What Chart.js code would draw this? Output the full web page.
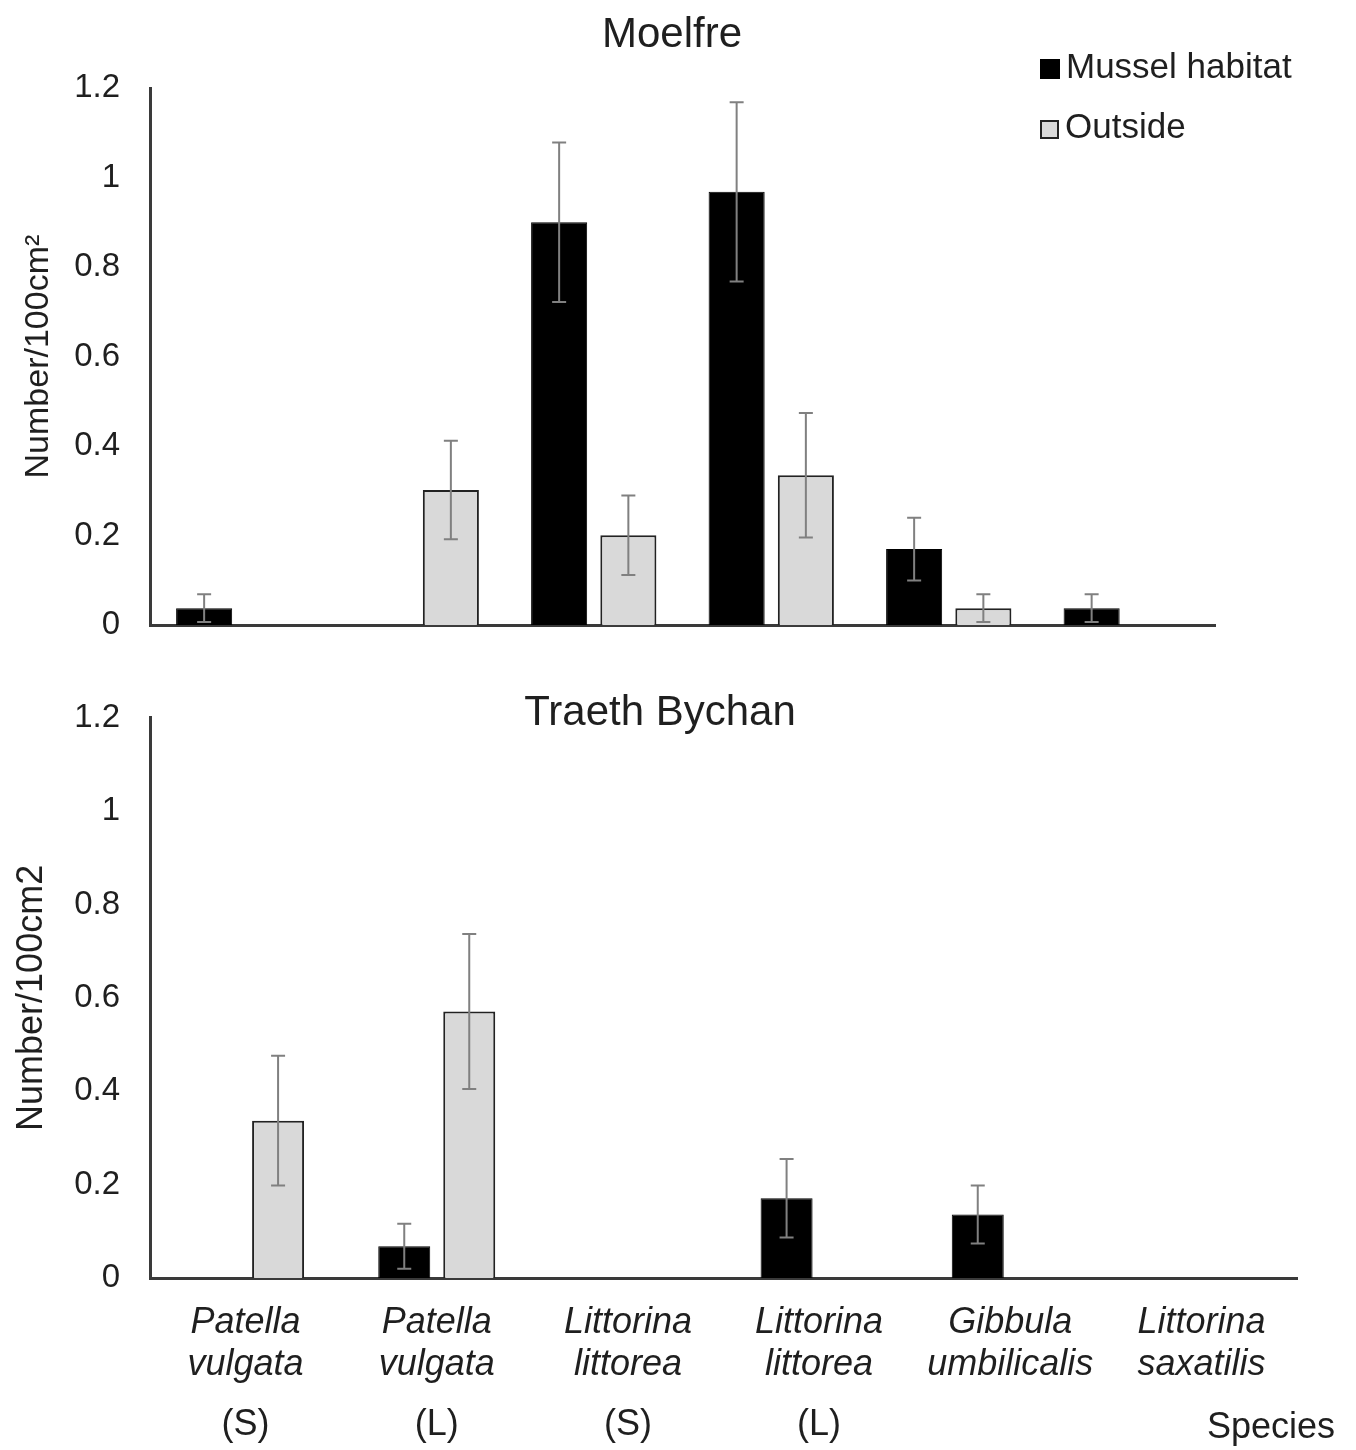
<!DOCTYPE html>
<html>
<head>
<meta charset="utf-8">
<script src="https://cdn.jsdelivr.net/npm/chart.js@4"></script>
<style>
  body { margin: 0; background: #fff; font-family: "Liberation Sans", Arial, sans-serif; }
  #page { position: relative; width: 1356px; height: 1450px; }
  .box { position: absolute; left: 0; width: 1356px; }
  .legend { position: absolute; left: 1040px; font-size: 35px; color: #1f1f1f; line-height: 40px; }
  .legend span.sw { display: inline-block; width: 18px; height: 18px; margin-right: 6px; vertical-align: -1px; }
</style>
</head>
<body>
<div id="page">
  <div class="box" style="top:0;height:675px"><canvas id="top"></canvas></div>
  <div class="box" style="top:668px;height:782px"><canvas id="bottom"></canvas></div>
  <div class="legend" style="top:46px"><span class="sw" style="background:#000;border:1px solid #000"></span>Mussel habitat</div>
  <div class="legend" style="top:106px"><span class="sw" style="background:#d9d9d9;border:2px solid #222;width:15px;height:15px"></span>Outside</div>
</div>
<script>
// Species on the x axis (two italic lines) and size class shown under them
const categories = [
    ['Patella', 'vulgata'],
    ['Patella', 'vulgata'],
    ['Littorina', 'littorea'],
    ['Littorina', 'littorea'],
    ['Gibbula', 'umbilicalis'],
    ['Littorina', 'saxatilis']
];
const sizeTags = ['(S)', '(L)', '(S)', '(L)', '', ''];
const yTicks = [0, 0.2, 0.4, 0.6, 0.8, 1, 1.2];

// Moelfre
const moelfreMussel = [0.038, null, 0.90, 0.968, 0.17, 0.038];
const moelfreMusselErr = [0.031, null, 0.178, 0.200, 0.070, 0.031];
const moelfreOutside = [null, 0.302, 0.201, 0.335, 0.038, null];
const moelfreOutsideErr = [null, 0.110, 0.089, 0.139, 0.031, null];

// Traeth Bychan
const bychanMussel = [null, 0.068, null, 0.171, 0.136, null];
const bychanMusselErr = [null, 0.048, null, 0.084, 0.062, null];
const bychanOutside = [0.337, 0.571, null, null, null, null];
const bychanOutsideErr = [0.139, 0.166, null, null, null, null];

const FONT = '"Liberation Sans", Arial, sans-serif';
const TEXT = '#1f1f1f';

// Draw +/- error whiskers on top of each bar
const errorBars = {
    id: 'errorBars',
    afterDatasetsDraw(chart) {
        const ctx = chart.ctx;
        const y = chart.scales.y;
        chart.data.datasets.forEach((ds, i) => {
            const meta = chart.getDatasetMeta(i);
            meta.data.forEach((bar, j) => {
                const v = ds.data[j], e = ds.errors[j];
                if (v == null || e == null) return;
                const top = y.getPixelForValue(v + e);
                const bot = y.getPixelForValue(Math.max(v - e, 0));
                ctx.save();
                ctx.strokeStyle = '#808080';
                ctx.lineWidth = 2;
                ctx.beginPath();
                ctx.moveTo(bar.x, top); ctx.lineTo(bar.x, bot);
                ctx.moveTo(bar.x - 7, top); ctx.lineTo(bar.x + 7, top);
                ctx.moveTo(bar.x - 7, bot); ctx.lineTo(bar.x + 7, bot);
                ctx.stroke();
                ctx.restore();
            });
        });
    }
};

// Titles and extra text rows
const extraText = {
    id: 'extraText',
    afterDraw(chart, args, opts) {
        const ctx = chart.ctx;
        ctx.save();
        ctx.fillStyle = TEXT;
        ctx.textBaseline = 'middle';
        ctx.textAlign = 'center';
        ctx.font = '42px ' + FONT;
        ctx.fillText(opts.title, opts.titleX, opts.titleY);
        if (opts.tags) {
            const x = chart.scales.x;
            ctx.font = '36px ' + FONT;
            sizeTags.forEach((t, i) => {
                if (t) ctx.fillText(t, x.getPixelForValue(i), opts.tagY);
            });
            ctx.textAlign = 'right';
            ctx.fillText('Species', 1335, opts.tagY + 3);
        }
        ctx.restore();
    }
};

function makeChart(id, mussel, musselErr, outside, outsideErr, cfg) {
    return new Chart(document.getElementById(id), {
        type: 'bar',
        data: {
            labels: categories,
            datasets: [
                {
                    label: 'Mussel habitat',
                    data: mussel,
                    errors: musselErr,
                    backgroundColor: '#000',
                    borderColor: '#000',
                    borderWidth: 1,
                    barPercentage: cfg.barPct,
                    categoryPercentage: cfg.catPct
                },
                {
                    label: 'Outside',
                    data: outside,
                    errors: outsideErr,
                    backgroundColor: '#d9d9d9',
                    borderColor: '#222',
                    borderWidth: 2,
                    barPercentage: cfg.barPct,
                    categoryPercentage: cfg.catPct
                }
            ]
        },
        options: {
            responsive: true,
            maintainAspectRatio: false,
            animation: false,
            layout: { padding: { top: cfg.padTop, right: cfg.padRight, left: 0, bottom: 0 } },
            plugins: {
                legend: { display: false },
                tooltip: { enabled: false },
                extraText: cfg.text
            },
            scales: {
                x: {
                    grid: { display: false, drawTicks: false },
                    border: { display: true, color: '#3a3a3a', width: 3 },
                    ticks: {
                        display: cfg.showX,
                        color: TEXT,
                        padding: 24,
                        maxRotation: 0,
                        autoSkip: false,
                        font: { family: FONT, size: 36, style: 'italic', lineHeight: 1.17 }
                    },
                    afterFit: s => { s.height = cfg.xHeight; }
                },
                y: {
                    min: 0,
                    max: 1.2,
                    afterBuildTicks: s => { s.ticks = yTicks.map(v => ({ value: v })); },
                    grid: { display: false, drawTicks: false },
                    border: { display: true, color: '#3a3a3a', width: 3 },
                    ticks: {
                        color: TEXT,
                        padding: 30,
                        font: { family: FONT, size: 33 },
                        callback: v => String(+v.toFixed(1))
                    },
                    title: {
                        display: true,
                        text: cfg.yTitle,
                        color: TEXT,
                        padding: cfg.yTitlePad,
                        font: { family: FONT, size: cfg.yTitleSize }
                    },
                    afterFit: s => { s.width = 150; }
                }
            }
        },
        plugins: [errorBars, extraText]
    });
}

makeChart('top', moelfreMussel, moelfreMusselErr, moelfreOutside, moelfreOutsideErr, {
    barPct: 0.81, catPct: 0.78,
    padTop: 88, padRight: 141, xHeight: 40, showX: false,
    yTitle: 'Number/100cm²', yTitleSize: 34, yTitlePad: 18,
    text: { title: 'Moelfre', titleX: 672, titleY: 35 }
});

makeChart('bottom', bychanMussel, bychanMusselErr, bychanOutside, bychanOutsideErr, {
    barPct: 0.8, catPct: 0.68,
    padTop: 47, padRight: 59, xHeight: 172, showX: true,
    yTitle: 'Number/100cm2', yTitleSize: 36, yTitlePad: 10,
    text: { title: 'Traeth Bychan', titleX: 660, titleY: 45, tags: true, tagY: 757 }
});
</script>
</body>
</html>
